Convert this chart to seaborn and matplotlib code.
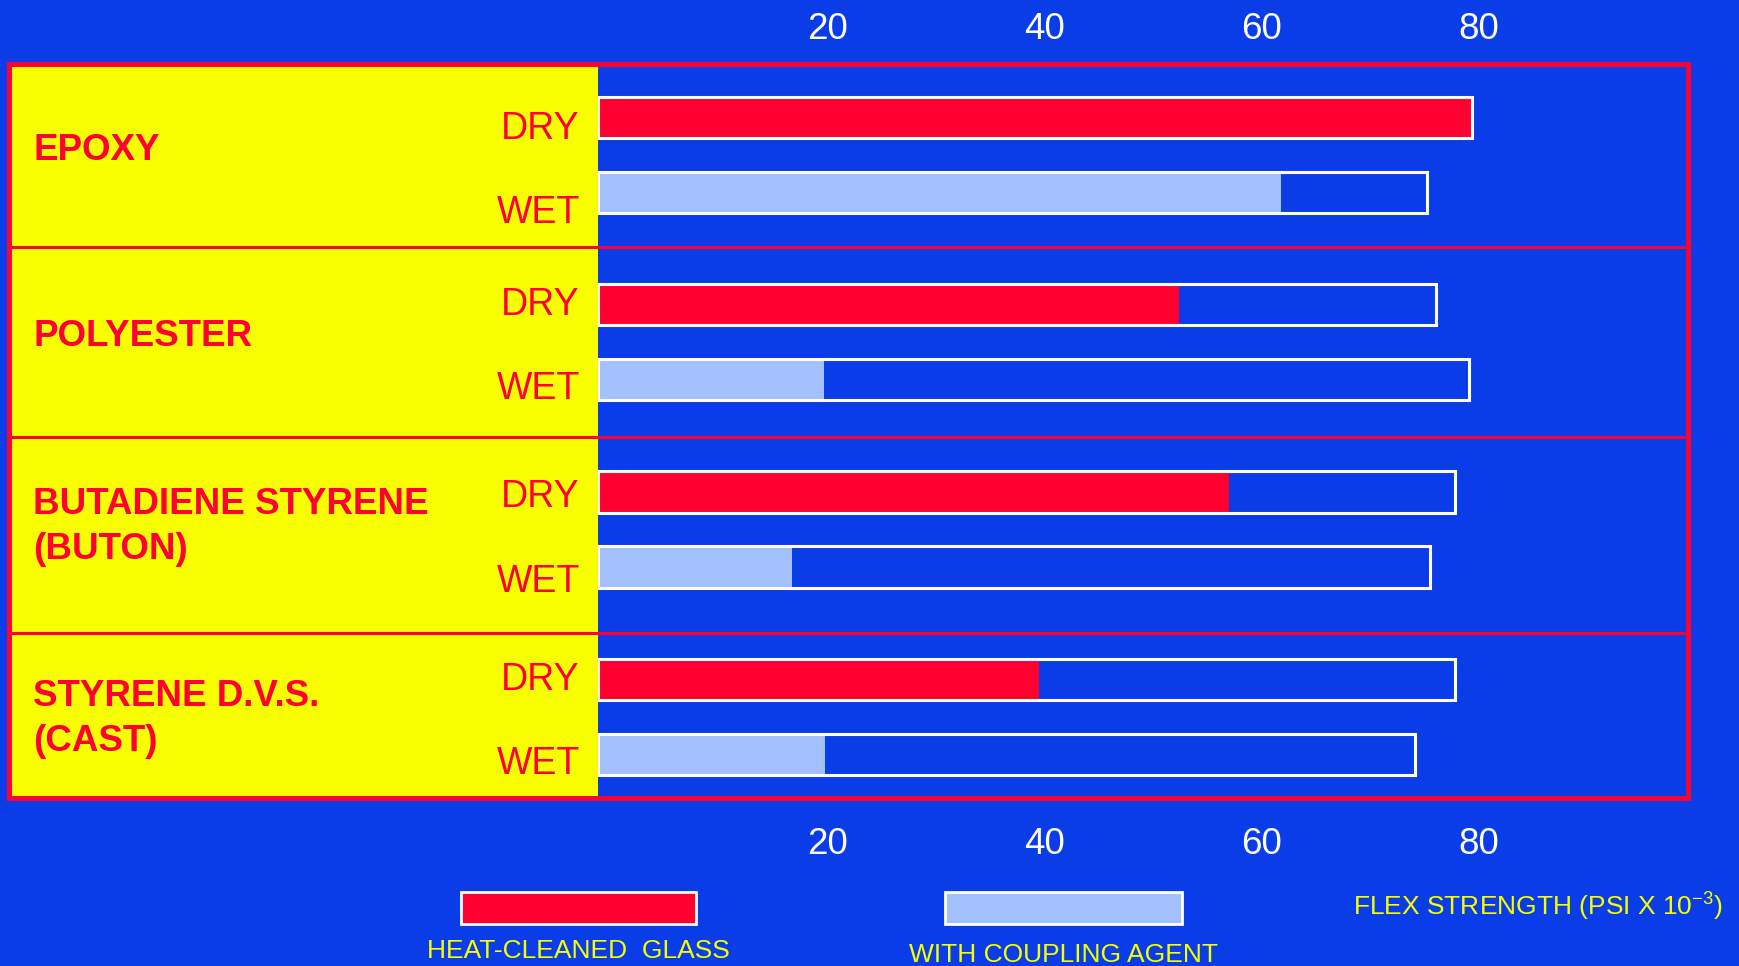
import matplotlib
matplotlib.use("Agg")
import matplotlib.pyplot as plt
import matplotlib.transforms as mtransforms
from matplotlib.patches import Rectangle
import pandas as pd
import seaborn as sns

# flex strength (psi x 10^-3)
materials = ["EPOXY", "POLYESTER", "BUTADIENE STYRENE\n(BUTON)", "STYRENE D.V.S.\n(CAST)"]
conditions = ["DRY", "WET"]
dry_heat_cleaned = [79.4, 52.4, 57.0, 39.5]   # red fill
dry_outline = [79.4, 76.1, 77.8, 77.8]        # white frame
wet_coupling = [61.8, 19.6, 16.7, 19.7]       # light blue fill
wet_outline = [75.2, 79.1, 75.5, 74.1]        # white frame
xticks = [20, 40, 60, 80]
legend_labels = ["HEAT-CLEANED  GLASS", "WITH COUPLING AGENT"]
axis_title = r"FLEX STRENGTH (PSI X 10$^{\mathregular{-3}}$)"

BLUE = "#0A3DE8"
RED = "#FF0030"
YELLOW = "#F9FF00"
LIGHT = "#A3C0FF"
TXT_YELLOW = "#F4FF00"

W, H = 1739, 966
BASE = -1.2            # where the bars start (edge of the yellow panel)
XLIM = (-55.5, 99.3)
YLIM = (9.08, -0.71)
SEPARATORS = [1.73, 4.27, 6.88]
NAME_OFFSET = [0.45, 0.43, 0.47, 0.53]
COND_OFFSET = [(0.16, 0.28), (0.0, 0.12), (0.06, 0.2), (0.0, 0.12)]

sns.set_theme(style="white", rc={"axes.facecolor": BLUE, "figure.facecolor": BLUE})
plt.rcParams["font.family"] = ["Liberation Sans", "DejaVu Sans"]
plt.rcParams["mathtext.fontset"] = "custom"
plt.rcParams["mathtext.rm"] = "Liberation Sans"


def px_box(x0, y0, x1, y1):
    # pixel box with top-left origin -> figure fraction [l, b, w, h]
    return [x0 / W, 1 - y1 / H, (x1 - x0) / W, (y1 - y0) / H]


rows = []
for g, m in enumerate(materials):
    rows.append(dict(material=m, cond="DRY", grp=g, pos=2.5 * g,
                     fill=dry_heat_cleaned[g], total=dry_outline[g]))
    rows.append(dict(material=m, cond="WET", grp=g, pos=2.5 * g + 1,
                     fill=wet_coupling[g], total=wet_outline[g]))
df = pd.DataFrame(rows)
df["fill_span"] = df["fill"] - BASE
df["total_span"] = df["total"] - BASE

fig = plt.figure(figsize=(W / 100, H / 100), dpi=100, facecolor=BLUE)
ax = fig.add_axes(px_box(9, 64, 1688, 798))
ax.set_facecolor(BLUE)

sns.barplot(data=df, x="fill_span", y="pos", hue="cond",
            palette={"DRY": RED, "WET": LIGHT}, orient="h", native_scale=True,
            dodge=False, width=0.55, errorbar=None, legend=False, saturation=1,
            left=BASE, linewidth=0, ax=ax)
sns.barplot(data=df, x="total_span", y="pos", orient="h", native_scale=True,
            width=0.55, errorbar=None, fill=False, color="white", saturation=1,
            linewidth=2.2, left=BASE, ax=ax)

ax.set_xlim(*XLIM)
ax.set_ylim(*YLIM)
ax.set(xlabel="", ylabel="")
ax.set_yticks([])

# yellow label panel and red frame
ax.axvspan(XLIM[0], BASE, color=YELLOW, lw=0, zorder=3)
for s in SEPARATORS:
    ax.axhline(s, color=RED, lw=2.2, zorder=5)
for sp in ax.spines.values():
    sp.set_color(RED)
    sp.set_linewidth(3.6)
    sp.set_zorder(6)

trans = mtransforms.blended_transform_factory(ax.transAxes, ax.transData)
for g, m in enumerate(materials):
    ax.text(0.0143, 2.5 * g + NAME_OFFSET[g], m, transform=trans, ha="left",
            va="center", fontsize=26.5, fontweight="bold", color=RED,
            linespacing=1.37, zorder=7)
for _, r in df.iterrows():
    off = COND_OFFSET[r["grp"]][0 if r["cond"] == "DRY" else 1]
    ax.text(0.340, r["pos"] + off, r["cond"], transform=trans, ha="right",
            va="center", fontsize=27, color=RED, zorder=7)

ax.set_xticks(xticks)
ax.set_xticklabels([str(t) for t in xticks])
ax.tick_params(axis="x", length=0, labelsize=26.5, labelcolor="white", pad=21)
top = ax.secondary_xaxis("top")
top.set_xticks(xticks)
top.set_xticklabels([str(t) for t in xticks])
top.tick_params(length=0, labelsize=26.5, labelcolor="white", pad=12)
top.spines["top"].set_visible(False)

# legend swatches and captions
for (x0, x1), col, lab, ly in zip([(461, 696), (945, 1182)], [RED, LIGHT],
                                  legend_labels, [951, 955]):
    fig.add_artist(Rectangle((x0 / W, 1 - 924 / H), (x1 - x0) / W, 32 / H,
                             transform=fig.transFigure, facecolor=col,
                             edgecolor="white", lw=2))
    fig.text((x0 + x1) / 2 / W, 1 - ly / H, lab, ha="center", va="center",
             fontsize=19, color=TXT_YELLOW)
fig.text(1353 / W, 1 - 906 / H, axis_title, ha="left", va="center",
         fontsize=19, color=TXT_YELLOW)

fig.savefig("out.png", dpi=100, facecolor=fig.get_facecolor())
